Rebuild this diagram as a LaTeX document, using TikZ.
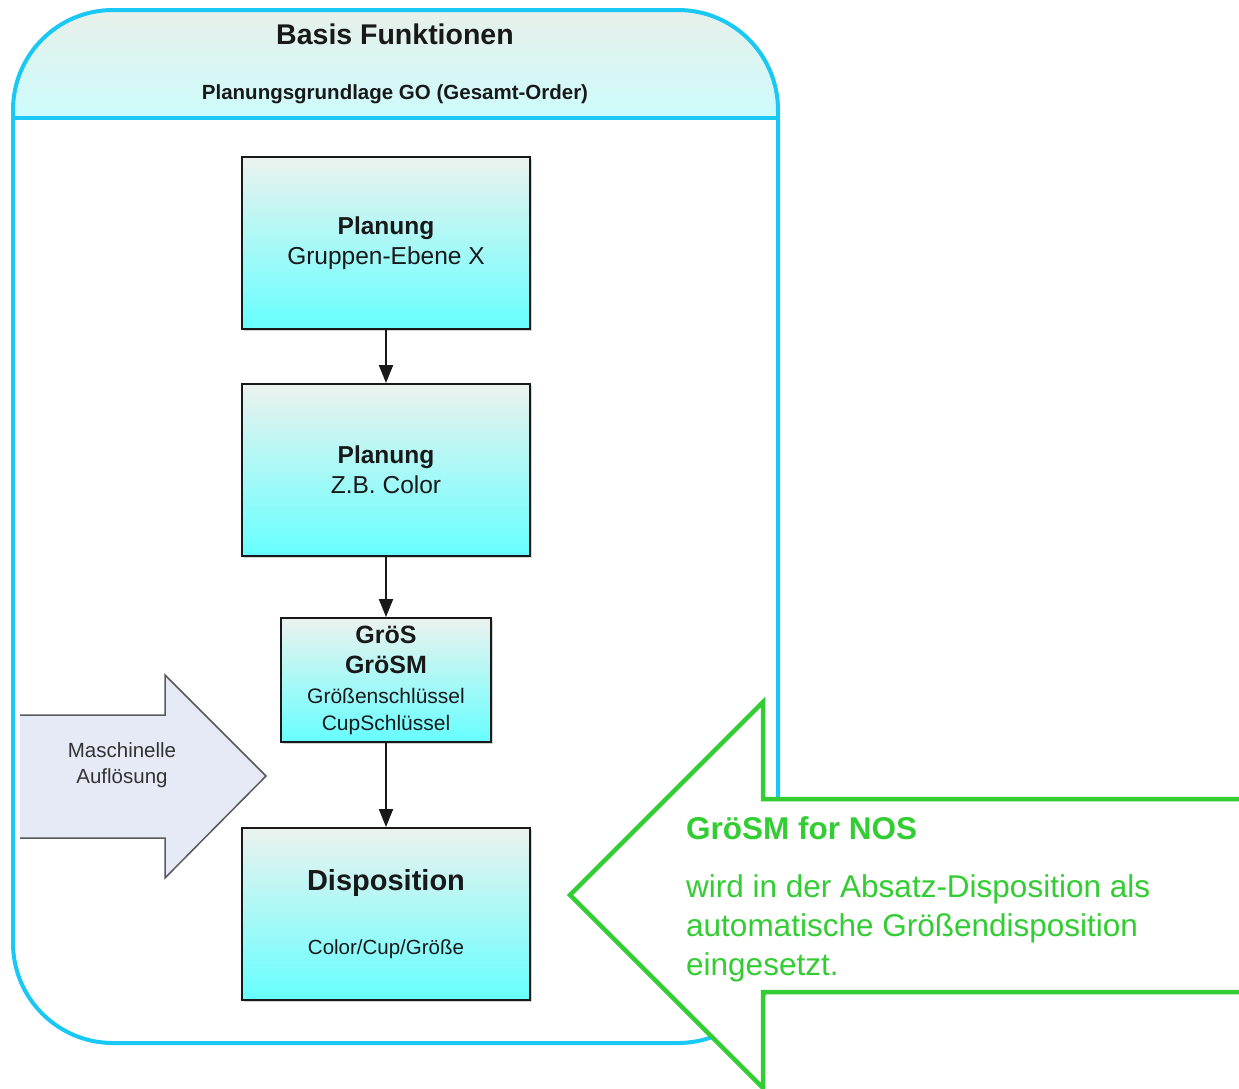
\documentclass[tikz,border=0pt]{standalone}
\usepackage{fontspec}
\setmainfont{Liberation Sans}
\usetikzlibrary{arrows.meta,shadows}
\definecolor{cyanline}{RGB}{25,200,245}
\definecolor{grn}{RGB}{50,205,50}
\definecolor{boxtop}{RGB}{236,242,238}
\definecolor{boxbot}{RGB}{102,255,255}
\definecolor{headtop}{RGB}{232,240,234}
\definecolor{headbot}{RGB}{204,252,252}
\definecolor{arrfill}{RGB}{230,234,246}
\begin{document}
\begin{tikzpicture}[x=1pt,y=-1pt,
  flowbox/.style={draw=black!90,line width=2pt,top color=boxtop,bottom color=boxbot,
    align=center,inner sep=0pt,text=black!90,
    drop shadow={shadow xshift=2pt,shadow yshift=-2pt,opacity=.35,fill=gray}},
  flowarrow/.style={line width=2pt,draw=black!90,-{Triangle[length=18pt,width=14pt]}},
  greentext/.style={text=grn,anchor=base west,inner sep=0pt,font=\fontsize{31.5}{36}\selectfont}
]
\clip (0,0) rectangle (1239,1088);
\fill[white] (0,0) rectangle (1239,1088);

% container
\fill[white,rounded corners=100pt] (13,10) rectangle (778,1043);
\fill[top color=headtop,bottom color=headbot] (13,118) -- (13,110) .. controls (13,54.8) and (57.8,10) .. (113,10)
  -- (678,10) .. controls (733.2,10) and (778,54.8) .. (778,110) -- (778,118) -- cycle;
\draw[cyanline,line width=4pt] (13,118) -- (778,118);
\draw[cyanline,line width=4pt,rounded corners=100pt] (13,10) rectangle (778,1043);
\node[font=\fontsize{28.5}{34}\selectfont\bfseries,text=black!90] (title) at (395,34) {Basis Funktionen};
\node[font=\fontsize{20.5}{24}\selectfont\bfseries,text=black!90] (subtitle) at (395,94) {Planungsgrundlage GO (Gesamt-Order)};

% boxes
\node[flowbox,minimum width=288pt,minimum height=172pt,font=\fontsize{24.5}{30}\selectfont] (p1) at (386,243)
  {\textbf{Planung}\\Gruppen-Ebene X};
\node[flowbox,minimum width=288pt,minimum height=172pt,font=\fontsize{24.5}{30}\selectfont] (p2) at (386,470)
  {\textbf{Planung}\\Z.B. Color};
\node[flowbox,minimum width=210pt,minimum height=124pt,font=\fontsize{25}{30}\selectfont] (gs) at (386,680)
  {\textbf{GröS}\\\textbf{GröSM}\\{\fontsize{21}{26}\selectfont Größenschlüssel}\\[-3pt]{\fontsize{21}{26}\selectfont CupSchlüssel}};
\node[flowbox,minimum width=288pt,minimum height=172pt,font=\fontsize{29}{34}\selectfont] (disp) at (386,914)
  {\textbf{Disposition}\\[30pt]{\fontsize{20.5}{24}\selectfont Color/Cup/Größe}};

\draw[flowarrow] (p1.south) -- (p2.north);
\draw[flowarrow] (p2.south) -- (gs.north);
\draw[flowarrow] (gs.south) -- (disp.north);

% left block arrow
\fill[arrfill] (20,715) -- (165,715) -- (165,675) -- (266,776) -- (165,878) -- (165,838) -- (20,838) -- cycle;
\draw[black!65,line width=1.5pt,line join=miter] (20,715) -- (165,715) -- (165,675) -- (266,776) -- (165,878) -- (165,838) -- (20,838);
\node[align=center,font=\fontsize{20.5}{26}\selectfont,text=black!80] (masch) at (122,765) {Maschinelle\\Auflösung};

% green block arrow
\fill[white] (1250,799) -- (763,799) -- (763,702) -- (570,895) -- (763,1088) -- (763,992) -- (1250,992) -- cycle;
\draw[grn,line width=4.5pt,line join=miter] (1250,799) -- (763,799) -- (763,702) -- (570,895) -- (763,1088) -- (763,992) -- (1250,992);
\node[greentext,font=\fontsize{31.5}{36}\selectfont\bfseries] (g0) at (686,839) {GröSM for NOS};
\node[greentext] (g1) at (686,897) {wird in der Absatz-Disposition als};
\node[greentext] (g2) at (686,936) {automatische Größendisposition};
\node[greentext] (g3) at (686,975) {eingesetzt.};
\end{tikzpicture}
\end{document}
